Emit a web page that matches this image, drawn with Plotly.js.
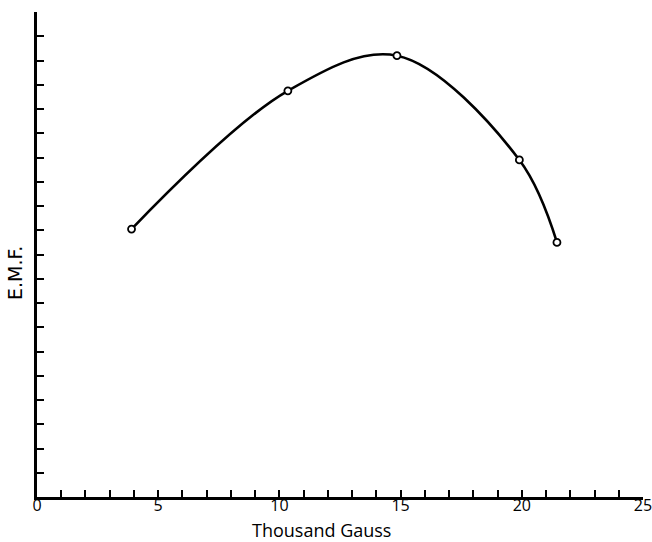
<!DOCTYPE html>
<html>
<head>
<meta charset="utf-8">
<script src="https://cdn.plot.ly/plotly-3.0.1.min.js"></script>
<style>html,body{margin:0;padding:0;background:#fff;}#chart{width:652px;height:542px;}</style>
</head>
<body>
<div id="chart"></div>
<script>
// Data
const gauss = [3.9, 10.35, 14.85, 19.9, 21.45];   // thousand gauss
const emf   = [11.05, 16.75, 18.2, 13.9, 10.5];   // E.M.F. (arbitrary units)
const xTickVals = [0, 5, 10, 15, 20, 25];
const xTickText = ["0", "5", "10", "15", "20", "25"];
const xTitle = "Thousand Gauss";
const yTitle = "E.M.F.";

const font = "Open Sans, DejaVu Sans, sans-serif";

const trace = {
  x: gauss,
  y: emf,
  type: "scatter",
  mode: "lines+markers",
  line: {color: "#000", width: 2.6, shape: "spline", smoothing: 1},
  marker: {symbol: "circle", size: 7, color: "#fff", line: {color: "#000", width: 1.8}},
  hoverinfo: "x+y"
};

const layout = {
  width: 652, height: 542,
  margin: {l: 37, r: 9, t: 12, b: 45},
  paper_bgcolor: "#fff", plot_bgcolor: "#fff",
  showlegend: false,
  font: {family: font, color: "#000", size: 18},
  xaxis: {
    range: [0, 25],
    tickvals: xTickVals, ticktext: xTickText,
    ticks: "inside", ticklen: 7, tickwidth: 2, tickcolor: "#000",
    minor: {dtick: 1, ticks: "inside", ticklen: 7, tickwidth: 2, tickcolor: "#000"},
    showline: true, linewidth: 3, linecolor: "#000",
    showgrid: false, zeroline: false,
    ticklabeloverflow: "allow",
    ticklabelstandoff: -8,
    tickfont: {family: font, size: 16, color: "#000"}
  },
  yaxis: {
    range: [0, 20],
    dtick: 1, tick0: 0,
    ticks: "inside", ticklen: 7, tickwidth: 2, tickcolor: "#000",
    showticklabels: false,
    showline: true, linewidth: 3, linecolor: "#000",
    showgrid: false, zeroline: false
  },
  annotations: [
    {text: xTitle, xref: "paper", yref: "paper", x: (321 - 37) / 606, y: -(530 - 497) / 485,
     xanchor: "center", yanchor: "middle", showarrow: false, borderpad: 0,
     font: {family: font, size: 18, color: "#000"}},
    {text: yTitle, xref: "paper", yref: "paper", x: -(37 - 15) / 606, y: (497 - 273) / 485,
     xanchor: "center", yanchor: "middle", showarrow: false, textangle: -90, borderpad: 0,
     font: {family: "DejaVu Sans, sans-serif", size: 19, color: "#000"}}
  ]
};

Plotly.newPlot("chart", [trace], layout, {displayModeBar: false, staticPlot: true});
</script>
</body>
</html>
